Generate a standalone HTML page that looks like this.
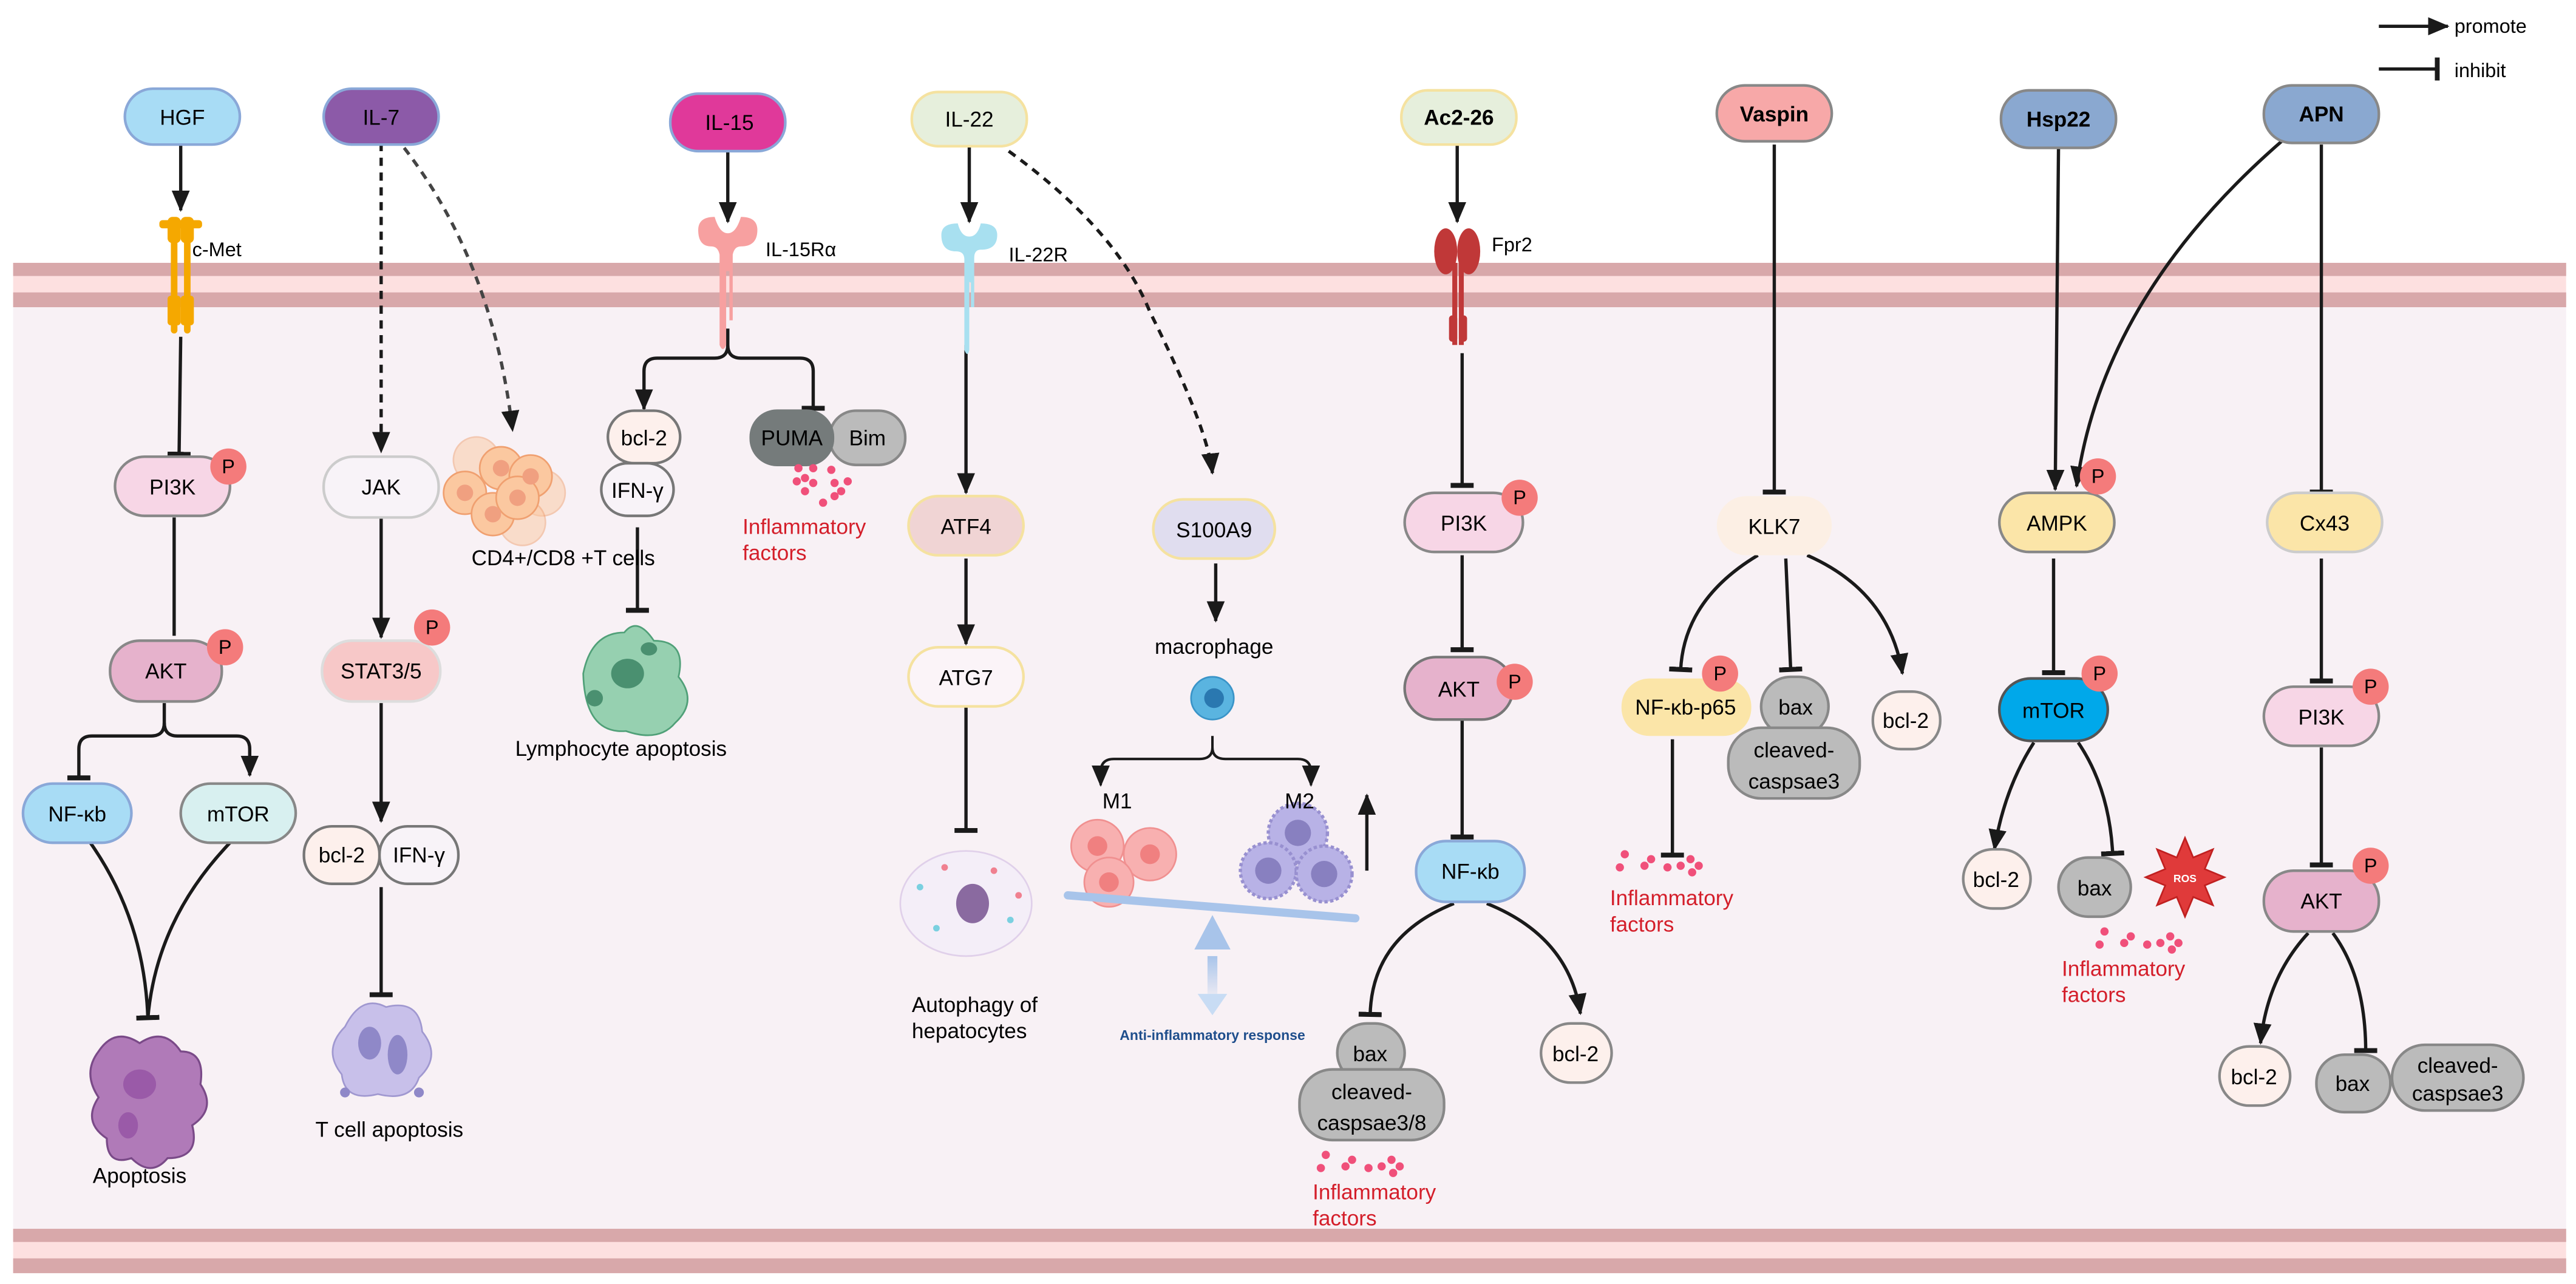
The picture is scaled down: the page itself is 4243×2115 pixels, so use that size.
<!DOCTYPE html>
<html><head><meta charset="utf-8"><style>
html,body{margin:0;padding:0;background:#fff;}
svg{display:block;}
text{font-family:"Liberation Sans",sans-serif;}
</style></head><body>
<svg width="4243" height="2115" viewBox="0 0 1568 781.6" xmlns="http://www.w3.org/2000/svg">
<defs>
<marker id="ar" markerUnits="userSpaceOnUse" markerWidth="14" markerHeight="14" refX="12" refY="7" orient="auto"><path d="M0,1.5 L13,7 L0,12.5 Z" fill="#1a1a1a"/></marker>
<marker id="inh" markerUnits="userSpaceOnUse" markerWidth="4" markerHeight="16" refX="2" refY="8" orient="auto"><rect x="0" y="1" width="3" height="14" fill="#1a1a1a"/></marker>
<linearGradient id="blueDown" x1="0" y1="0" x2="0" y2="1"><stop offset="0" stop-color="#a8c4ea"/><stop offset="1" stop-color="#a8c4ea" stop-opacity="0.1"/></linearGradient>
</defs>

<!-- membranes & cytoplasm -->
<rect x="8" y="187" width="1554" height="561" fill="#f8f1f5"/>
<rect x="8" y="160" width="1554" height="27" fill="#fde0e0"/>
<rect x="8" y="160" width="1554" height="8" fill="#d8a8aa"/>
<rect x="8" y="178" width="1554" height="9" fill="#d8a8aa"/>
<rect x="8" y="748" width="1554" height="27" fill="#fde0e0"/>
<rect x="8" y="748" width="1554" height="8" fill="#d8a8aa"/>
<rect x="8" y="766" width="1554" height="9" fill="#d8a8aa"/>

<!-- legend -->
<line x1="1448" y1="16" x2="1490" y2="16" stroke="#1a1a1a" stroke-width="2" marker-end="url(#ar)"/>
<text x="1494" y="20" font-size="12">promote</text>
<line x1="1448" y1="42" x2="1484" y2="42" stroke="#1a1a1a" stroke-width="2" marker-end="url(#inh)"/>
<text x="1494" y="47" font-size="12">inhibit</text>

<g stroke-width="2" fill="none" stroke="#1a1a1a">
<!-- col1 -->
<line x1="110" y1="87" x2="110" y2="128" marker-end="url(#ar)"/>
<line x1="110" y1="205" x2="109" y2="277" marker-end="url(#inh)"/>
<line x1="106" y1="315" x2="106" y2="387"/>
<path d="M100,428 V440 Q100,448 92,448 H56 Q48,448 48,456 V474" marker-end="url(#inh)"/>
<path d="M100,440 Q100,448 108,448 H144 Q152,448 152,456 V472" marker-end="url(#ar)"/>
<path d="M55,513 Q88,560 90,620" marker-end="url(#inh)"/>
<path d="M140,513 Q95,560 90,620"/>
<!-- col2 -->
<line x1="232" y1="87" x2="232" y2="275" stroke-dasharray="5,4" marker-end="url(#ar)"/>
<path d="M246,90 Q300,160 312,262" stroke-dasharray="5,4" stroke="#444" marker-end="url(#ar)"/>
<line x1="232" y1="315" x2="232" y2="388" marker-end="url(#ar)"/>
<line x1="232" y1="428" x2="232" y2="500" marker-end="url(#ar)"/>
<line x1="232" y1="540" x2="232" y2="606" marker-end="url(#inh)"/>
<!-- col3 -->
<line x1="443" y1="92" x2="443" y2="135" marker-end="url(#ar)"/>
<path d="M443,200 V210 Q443,218 435,218 H400 Q392,218 392,226 V249" marker-end="url(#ar)"/>
<path d="M443,210 Q443,218 451,218 H487 Q495,218 495,226 V249" marker-end="url(#inh)"/>
<line x1="388" y1="321" x2="388" y2="372" marker-end="url(#inh)"/>
<!-- col4 -->
<line x1="590" y1="88" x2="590" y2="135" marker-end="url(#ar)"/>
<line x1="588" y1="210" x2="588" y2="300" marker-end="url(#ar)"/>
<line x1="588" y1="340" x2="588" y2="392" marker-end="url(#ar)"/>
<line x1="588" y1="430" x2="588" y2="506" marker-end="url(#inh)"/>
<path d="M614,92 Q680,140 700,190 Q735,260 738,288" stroke-dasharray="5,4" marker-end="url(#ar)"/>
<line x1="740" y1="343" x2="740" y2="378" marker-end="url(#ar)"/>
<path d="M738,448 V455 Q738,462 730,462 H678 Q670,462 670,470 V478" stroke-width="1.5" marker-end="url(#ar)"/>
<path d="M738,455 Q738,462 746,462 H790 Q798,462 798,470 V478" stroke-width="1.5" marker-end="url(#ar)"/>
<line x1="832" y1="530" x2="832" y2="484" marker-end="url(#ar)"/>
<!-- col5 -->
<line x1="887" y1="88" x2="887" y2="135" marker-end="url(#ar)"/>
<line x1="890" y1="215" x2="890" y2="296" marker-end="url(#inh)"/>
<line x1="890" y1="338" x2="890" y2="396" marker-end="url(#inh)"/>
<line x1="890" y1="438" x2="890" y2="510" marker-end="url(#inh)"/>
<path d="M885,550 Q835,570 834,618" marker-end="url(#inh)"/>
<path d="M905,550 Q955,570 962,617" marker-end="url(#ar)"/>
<!-- col6 -->
<line x1="1080" y1="88" x2="1080" y2="300" marker-end="url(#inh)"/>
<path d="M1070,338 Q1025,365 1023,408" marker-end="url(#inh)"/>
<line x1="1087" y1="340" x2="1090" y2="408" marker-end="url(#inh)"/>
<path d="M1100,338 Q1150,360 1158,410" marker-end="url(#ar)"/>
<line x1="1018" y1="450" x2="1018" y2="521" marker-end="url(#inh)"/>
<!-- col7 -->
<line x1="1253" y1="90" x2="1251" y2="298" marker-end="url(#ar)"/>
<path d="M1390,85 Q1280,180 1264,296" marker-end="url(#ar)"/>
<line x1="1250" y1="340" x2="1250" y2="410" marker-end="url(#inh)"/>
<path d="M1238,452 Q1220,480 1214,517" marker-end="url(#ar)"/>
<path d="M1265,452 Q1284,480 1286,520" marker-end="url(#inh)"/>
<!-- col8 -->
<line x1="1413" y1="88" x2="1413" y2="300" marker-end="url(#inh)"/>
<line x1="1413" y1="340" x2="1413" y2="415" marker-end="url(#inh)"/>
<line x1="1413" y1="455" x2="1413" y2="527" marker-end="url(#inh)"/>
<path d="M1405,568 Q1380,595 1376,635" marker-end="url(#ar)"/>
<path d="M1420,568 Q1440,595 1440,640" marker-end="url(#inh)"/>
</g>

<!-- receptors -->
<g fill="#f5a800">
<rect x="104" y="133" width="4" height="70" rx="2"/><rect x="112" y="133" width="4" height="70" rx="2"/>
<rect x="97" y="134" width="26" height="5" rx="2"/>
<rect x="102" y="132" width="8" height="16" rx="3"/><rect x="110" y="132" width="8" height="16" rx="3"/>
<rect x="102" y="180" width="8" height="18" rx="2"/><rect x="110" y="180" width="8" height="18" rx="2"/>
</g>
<text x="117" y="156" font-size="12">c-Met</text>
<path d="M425,140 q0,-8 10,-8 q3,10 8,10 q5,0 8,-10 q10,0 10,8 q0,10 -10,10 q-4,0 -5,5 v40 h-2 v-30 h-2 v45 q-2,5 -4,0 v-55 q-1,-5 -5,-5 q-8,0 -8,-10z" fill="#f7a0a0"/>
<text x="466" y="156" font-size="12">IL-15Rα</text>
<path d="M573,143 q0,-7 10,-7 q2,8 7,8 q5,0 7,-8 q10,0 10,7 q0,9 -10,9 q-4,0 -4,5 v30 h-2 v-15 q-2,0 -1,-4 v45 q-1,5 -3,0 v-55 q0,-5 -5,-5 q-9,0 -9,-10z" fill="#a8e0f0"/>
<text x="614" y="159" font-size="12">IL-22R</text>
<g fill="#c03838">
<ellipse cx="880" cy="153" rx="7" ry="14"/><ellipse cx="894" cy="153" rx="7" ry="14"/>
<rect x="884" y="160" width="3" height="50"/><rect x="888" y="160" width="3" height="50"/>
<rect x="882" y="192" width="5" height="16" rx="2"/><rect x="888" y="192" width="5" height="16" rx="2"/>
</g>
<text x="908" y="153" font-size="12">Fpr2</text>

<!-- nodes -->
<g font-size="13" text-anchor="middle" stroke-width="1.6">
<g><rect x="76" y="54" width="70" height="34" rx="17" fill="#a8dcf5" stroke="#8aa8d8"/><text x="111" y="76" stroke="none">HGF</text></g>
<g><rect x="197" y="54" width="70" height="34" rx="17" fill="#8c5aa8" stroke="#8aa8d8"/><text x="232" y="76" stroke="none">IL-7</text></g>
<g><rect x="408" y="57" width="70" height="35" rx="17" fill="#e0399a" stroke="#8aa8d8"/><text x="444" y="79" stroke="none">IL-15</text></g>
<g><rect x="555" y="56" width="70" height="33" rx="16" fill="#e6efdc" stroke="#f5e2a0"/><text x="590" y="77" stroke="none">IL-22</text></g>
<g><rect x="853" y="55" width="70" height="33" rx="16" fill="#e6efdc" stroke="#f5e2a0"/><text x="888" y="76" stroke="none" font-weight="bold">Ac2-26</text></g>
<g><rect x="1045" y="52" width="70" height="34" rx="17" fill="#f7a8a8" stroke="#888"/><text x="1080" y="74" stroke="none" font-weight="bold">Vaspin</text></g>
<g><rect x="1218" y="55" width="70" height="35" rx="17" fill="#8aa8d0" stroke="#888"/><text x="1253" y="77" stroke="none" font-weight="bold">Hsp22</text></g>
<g><rect x="1378" y="52" width="70" height="35" rx="17" fill="#8aa8d0" stroke="#888"/><text x="1413" y="74" stroke="none" font-weight="bold">APN</text></g>

<g><rect x="70" y="278" width="70" height="36" rx="18" fill="#f7d6e6" stroke="#888"/><text x="105" y="301" stroke="none">PI3K</text></g>
<g><rect x="67" y="390" width="68" height="37" rx="18" fill="#e6b2cc" stroke="#888"/><text x="101" y="413" stroke="none">AKT</text></g>
<g><rect x="14" y="477" width="66" height="36" rx="18" fill="#a8dcf5" stroke="#8aa8d8"/><text x="47" y="500" stroke="none">NF-κb</text></g>
<g><rect x="110" y="477" width="70" height="36" rx="18" fill="#d8f0f0" stroke="#888"/><text x="145" y="500" stroke="none">mTOR</text></g>

<g><rect x="197" y="278" width="70" height="37" rx="18" fill="#f8f3f8" stroke="#ccc"/><text x="232" y="301" stroke="none">JAK</text></g>
<g><rect x="196" y="390" width="72" height="37" rx="18" fill="#f7c8c8" stroke="#ddd"/><text x="232" y="413" stroke="none">STAT3/5</text></g>
<g><rect x="185" y="503" width="46" height="35" rx="17" fill="#fdf0ec" stroke="#777"/><text x="208" y="525" stroke="none">bcl-2</text></g>
<g><rect x="231" y="503" width="48" height="35" rx="17" fill="#f8f3f8" stroke="#777"/><text x="255" y="525" stroke="none">IFN-γ</text></g>

<g><rect x="370" y="250" width="44" height="32" rx="16" fill="#fdf0ec" stroke="#777"/><text x="392" y="271" stroke="none">bcl-2</text></g>
<g><rect x="366" y="282" width="44" height="32" rx="16" fill="#f8f3f8" stroke="#777"/><text x="388" y="303" stroke="none">IFN-γ</text></g>
<g><rect x="505" y="250" width="46" height="33" rx="16" fill="#bbb" stroke="#888"/><text x="528" y="271" stroke="none">Bim</text></g>
<g><rect x="457" y="250" width="50" height="33" rx="16" fill="#757b7b" stroke="#757b7b"/><text x="482" y="271" stroke="none">PUMA</text></g>

<g><rect x="553" y="302" width="70" height="36" rx="18" fill="#f0d4d4" stroke="#f5e2a0"/><text x="588" y="325" stroke="none">ATF4</text></g>
<g><rect x="553" y="394" width="70" height="36" rx="18" fill="#fbf4f8" stroke="#f5e2a0"/><text x="588" y="417" stroke="none">ATG7</text></g>
<g><rect x="702" y="304" width="74" height="36" rx="18" fill="#e0ddef" stroke="#f5e2a0"/><text x="739" y="327" stroke="none">S100A9</text></g>

<g><rect x="855" y="300" width="72" height="36" rx="18" fill="#f7d6e6" stroke="#888"/><text x="891" y="323" stroke="none">PI3K</text></g>
<g><rect x="855" y="400" width="66" height="38" rx="19" fill="#e6b2cc" stroke="#777"/><text x="888" y="424" stroke="none">AKT</text></g>
<g><rect x="862" y="512" width="66" height="37" rx="18" fill="#a8dcf5" stroke="#8aa8d8"/><text x="895" y="535" stroke="none">NF-κb</text></g>
<g><rect x="814" y="623" width="41" height="36" rx="18" fill="#bbb" stroke="#888"/><text x="834" y="646" stroke="none">bax</text></g>
<g><rect x="791" y="651" width="88" height="43" rx="20" fill="#bbb" stroke="#888"/><text x="835" y="669" stroke="none">cleaved-</text><text x="835" y="688" stroke="none">caspsae3/8</text></g>
<g><rect x="938" y="623" width="43" height="36" rx="18" fill="#fdf0ec" stroke="#888"/><text x="959" y="646" stroke="none">bcl-2</text></g>

<g><rect x="1045" y="302" width="70" height="36" rx="18" fill="#fcefe4"/><text x="1080" y="325" stroke="none">KLK7</text></g>
<g><rect x="987" y="413" width="79" height="35" rx="17" fill="#fbe5a8"/><text x="1026" y="435" stroke="none">NF-κb-p65</text></g>
<g><rect x="1072" y="412" width="41" height="36" rx="18" fill="#bbb" stroke="#888"/><text x="1093" y="435" stroke="none">bax</text></g>
<g><rect x="1052" y="443" width="80" height="43" rx="20" fill="#bbb" stroke="#888"/><text x="1092" y="461" stroke="none">cleaved-</text><text x="1092" y="480" stroke="none">caspsae3</text></g>
<g><rect x="1140" y="421" width="41" height="35" rx="17" fill="#fdf0ec" stroke="#888"/><text x="1160" y="443" stroke="none">bcl-2</text></g>

<g><rect x="1217" y="300" width="70" height="36" rx="18" fill="#fbe5a8" stroke="#888"/><text x="1252" y="323" stroke="none">AMPK</text></g>
<g><rect x="1217" y="413" width="66" height="38" rx="19" fill="#00a8ea" stroke="#555"/><text x="1250" y="437" stroke="none">mTOR</text></g>
<g><rect x="1195" y="517" width="41" height="36" rx="18" fill="#fdf0ec" stroke="#888"/><text x="1215" y="540" stroke="none">bcl-2</text></g>
<g><rect x="1253" y="522" width="44" height="36" rx="18" fill="#bbb" stroke="#888"/><text x="1275" y="545" stroke="none">bax</text></g>

<g><rect x="1380" y="300" width="70" height="36" rx="18" fill="#fbe5a8" stroke="#ccc"/><text x="1415" y="323" stroke="none">Cx43</text></g>
<g><rect x="1378" y="418" width="70" height="36" rx="18" fill="#f7d6e6" stroke="#888"/><text x="1413" y="441" stroke="none">PI3K</text></g>
<g><rect x="1378" y="530" width="70" height="37" rx="18" fill="#e6b2cc" stroke="#888"/><text x="1413" y="553" stroke="none">AKT</text></g>
<g><rect x="1351" y="637" width="43" height="36" rx="18" fill="#fdf0ec" stroke="#888"/><text x="1372" y="660" stroke="none">bcl-2</text></g>
<g><rect x="1410" y="642" width="45" height="35" rx="17" fill="#bbb" stroke="#888"/><text x="1432" y="664" stroke="none">bax</text></g>
<g><rect x="1456" y="636" width="80" height="40" rx="20" fill="#bbb" stroke="#888"/><text x="1496" y="653" stroke="none">cleaved-</text><text x="1496" y="670" stroke="none">caspsae3</text></g>
</g>

<!-- P badges -->
<g font-size="12" text-anchor="middle">
<g><circle cx="139" cy="284" r="11" fill="#f47b7b"/><text x="139" y="288">P</text></g>
<g><circle cx="137" cy="394" r="11" fill="#f47b7b"/><text x="137" y="398">P</text></g>
<g><circle cx="263" cy="382" r="11" fill="#f47b7b"/><text x="263" y="386">P</text></g>
<g><circle cx="925" cy="303" r="11" fill="#f47b7b"/><text x="925" y="307">P</text></g>
<g><circle cx="922" cy="415" r="11" fill="#f47b7b"/><text x="922" y="419">P</text></g>
<g><circle cx="1047" cy="410" r="11" fill="#f47b7b"/><text x="1047" y="414">P</text></g>
<g><circle cx="1277" cy="290" r="11" fill="#f47b7b"/><text x="1277" y="294">P</text></g>
<g><circle cx="1278" cy="410" r="11" fill="#f47b7b"/><text x="1278" y="414">P</text></g>
<g><circle cx="1443" cy="418" r="11" fill="#f47b7b"/><text x="1443" y="422">P</text></g>
<g><circle cx="1443" cy="527" r="11" fill="#f47b7b"/><text x="1443" y="531">P</text></g>
</g>

<!-- cell images -->
<g>
<g fill="#b07ab8" stroke="#7a4a88" stroke-width="1.2">
<path d="M60,640 q10,-15 25,-5 q15,-10 25,5 q15,0 12,20 q10,15 -5,25 q5,20 -15,20 q-10,12 -22,0 q-15,5 -15,-12 q-15,-10 -5,-25 q-10,-15 0,-28z"/>
</g>
<g fill="#9a5aa8"><ellipse cx="85" cy="660" rx="10" ry="9"/><ellipse cx="78" cy="685" rx="6" ry="8"/></g>
<g fill="#fbc8a0" stroke="#f0a070" stroke-width="1">
<circle cx="290" cy="280" r="14" opacity="0.5"/><circle cx="330" cy="300" r="14" opacity="0.5"/><circle cx="318" cy="318" r="14" opacity="0.5"/>
<circle cx="283" cy="300" r="13"/><circle cx="305" cy="285" r="13"/><circle cx="323" cy="290" r="13"/><circle cx="300" cy="313" r="13"/><circle cx="315" cy="303" r="13"/>
</g>
<g fill="#f0a080"><circle cx="283" cy="300" r="5"/><circle cx="305" cy="285" r="5"/><circle cx="323" cy="290" r="5"/><circle cx="300" cy="313" r="5"/><circle cx="315" cy="303" r="5"/></g>
<path d="M210,625 q10,-20 25,-12 q20,-5 22,15 q12,15 -2,28 q-5,15 -25,10 q-20,5 -22,-12 q-12,-15 2,-29z" fill="#c8c0ea" stroke="#a098d0"/>
<g fill="#8f88c8"><ellipse cx="225" cy="635" rx="7" ry="10"/><ellipse cx="242" cy="642" rx="6" ry="12"/><circle cx="210" cy="665" r="3"/><circle cx="255" cy="665" r="3"/></g>
<path d="M355,410 q5,-25 25,-25 q8,-10 18,5 q20,0 15,22 q12,15 -2,28 q-10,12 -30,5 q-25,2 -26,-35z" fill="#96d0b0" stroke="#50a078"/>
<g fill="#4a9070"><ellipse cx="382" cy="410" rx="10" ry="9"/><ellipse cx="362" cy="425" rx="5" ry="5"/><ellipse cx="395" cy="395" rx="5" ry="4"/></g>
<ellipse cx="588" cy="550" rx="40" ry="32" fill="#f4eef8" stroke="#e0d0ea"/>
<ellipse cx="592" cy="550" rx="10" ry="12" fill="#8a6aa0"/>
<g fill="#7ad0e0"><circle cx="560" cy="540" r="2"/><circle cx="615" cy="560" r="2"/><circle cx="570" cy="565" r="2"/></g>
<g fill="#f08090"><circle cx="605" cy="530" r="2"/><circle cx="575" cy="528" r="2"/><circle cx="620" cy="545" r="2"/></g>
<circle cx="738" cy="425" r="13" fill="#5ab4e0" stroke="#3a94c8"/><circle cx="739" cy="425" r="6" fill="#2a78b0"/>
<g fill="#f8b0b0" stroke="#f09090"><circle cx="668" cy="515" r="16"/><circle cx="700" cy="520" r="16"/><circle cx="675" cy="537" r="15"/></g>
<g fill="#f08080"><circle cx="668" cy="515" r="6"/><circle cx="700" cy="520" r="6"/><circle cx="675" cy="537" r="6"/></g>
<g fill="#b8b2e6" stroke="#9890d0" stroke-dasharray="2,1.5" stroke-width="2"><circle cx="790" cy="507" r="18"/><circle cx="772" cy="530" r="17"/><circle cx="806" cy="532" r="17"/></g>
<g fill="#8880c0"><circle cx="790" cy="507" r="8"/><circle cx="772" cy="530" r="8"/><circle cx="806" cy="532" r="8"/></g>
<line x1="650" y1="545" x2="825" y2="559" stroke="#a8c4ea" stroke-width="5" stroke-linecap="round"/>
<path d="M738,557 L749,578 L727,578Z" fill="#a8c4ea"/>
<rect x="735" y="582" width="6" height="26" fill="url(#blueDown)"/>
<path d="M729,605 L747,605 L738,618Z" fill="#c8dcf4"/>
<path d="M1330,510 l5,12 l12,-5 l-5,12 l12,5 l-12,5 l5,12 l-12,-5 l-5,12 l-5,-12 l-12,5 l5,-12 l-12,-5 l12,-5 l-5,-12 l12,5z" fill="#e03a3a" stroke="#c02020"/>
<text x="1330" y="537" font-size="6.5" font-weight="bold" text-anchor="middle" fill="#fff">ROS</text>
</g>

<!-- inflammatory dots -->
<g fill="#f0507a">
<g transform="translate(484,285)"><circle cx="2" cy="0" r="2.5"/><circle cx="11" cy="0" r="2.5"/><circle cx="22" cy="1" r="2.5"/><circle cx="1" cy="8" r="2.5"/><circle cx="6" cy="6" r="2.5"/><circle cx="11" cy="9" r="2.5"/><circle cx="6" cy="14" r="2.5"/><circle cx="24" cy="9" r="2.5"/><circle cx="32" cy="8" r="2.5"/><circle cx="28" cy="14" r="2.5"/><circle cx="24" cy="17" r="2.5"/><circle cx="17" cy="21" r="2.5"/></g>
<g transform="translate(986,520)"><circle cx="3" cy="0" r="2.5"/><circle cx="0" cy="8" r="2.5"/><circle cx="15" cy="7" r="2.5"/><circle cx="19" cy="3" r="2.5"/><circle cx="29" cy="8" r="2.5"/><circle cx="37" cy="7" r="2.5"/><circle cx="43" cy="3" r="2.5"/><circle cx="44" cy="11" r="2.5"/><circle cx="48" cy="7" r="2.5"/></g>
<g transform="translate(1278,567)"><circle cx="3" cy="0" r="2.5"/><circle cx="0" cy="8" r="2.5"/><circle cx="15" cy="7" r="2.5"/><circle cx="19" cy="3" r="2.5"/><circle cx="29" cy="8" r="2.5"/><circle cx="37" cy="7" r="2.5"/><circle cx="43" cy="3" r="2.5"/><circle cx="44" cy="11" r="2.5"/><circle cx="48" cy="7" r="2.5"/></g>
<g transform="translate(804,703)"><circle cx="3" cy="0" r="2.5"/><circle cx="0" cy="8" r="2.5"/><circle cx="15" cy="7" r="2.5"/><circle cx="19" cy="3" r="2.5"/><circle cx="29" cy="8" r="2.5"/><circle cx="37" cy="7" r="2.5"/><circle cx="43" cy="3" r="2.5"/><circle cx="44" cy="11" r="2.5"/><circle cx="48" cy="7" r="2.5"/></g>
</g>

<!-- labels -->
<g font-size="13">
<text x="85" y="720" text-anchor="middle">Apoptosis</text>
<text x="237" y="692" text-anchor="middle">T cell apoptosis</text>
<text x="287" y="344">CD4+/CD8 +T cells</text>
<text x="378" y="460" text-anchor="middle">Lymphocyte apoptosis</text>
<text x="555" y="616">Autophagy of</text>
<text x="555" y="632">hepatocytes</text>
<text x="739" y="398" text-anchor="middle">macrophage</text>
<text x="671" y="492">M1</text>
<text x="782" y="492">M2</text>
<text x="738" y="633" font-size="8.5" font-weight="bold" fill="#1f4e8c" text-anchor="middle">Anti-inflammatory response</text>
<g fill="#d41e2a">
<text x="452" y="325">Inflammatory</text><text x="452" y="341">factors</text>
<text x="980" y="551">Inflammatory</text><text x="980" y="567">factors</text>
<text x="1255" y="594">Inflammatory</text><text x="1255" y="610">factors</text>
<text x="799" y="730">Inflammatory</text><text x="799" y="746">factors</text>
</g>
</g>
</svg>
</body></html>
